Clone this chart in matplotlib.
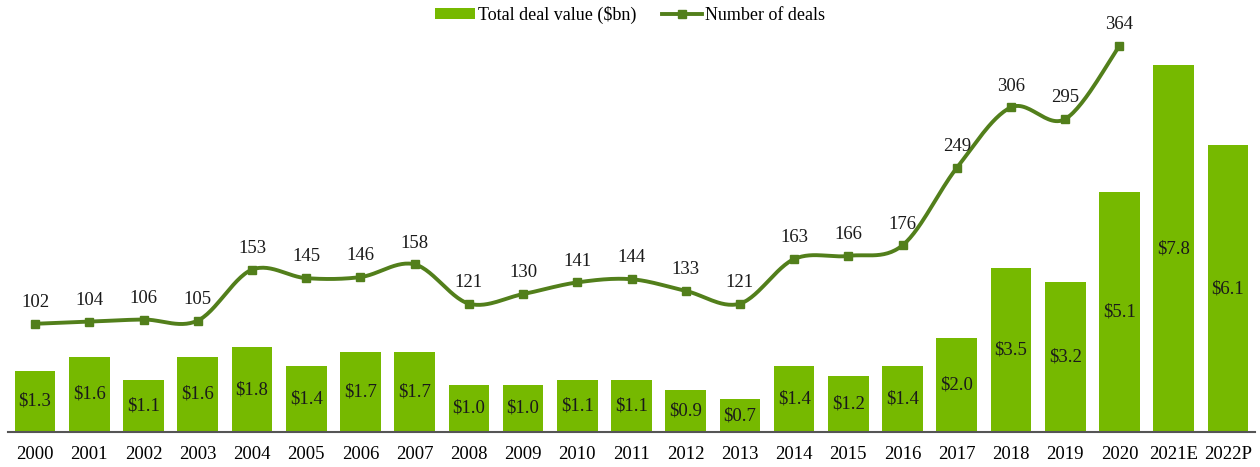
import numpy as np
import matplotlib
matplotlib.use("Agg")
from matplotlib import pyplot as plt
from matplotlib.lines import Line2D

years = ['2000', '2001', '2002', '2003', '2004', '2005', '2006', '2007', '2008', '2009',
         '2010', '2011', '2012', '2013', '2014', '2015', '2016', '2017', '2018', '2019',
         '2020', '2021E', '2022P']
deal_value = [1.3, 1.6, 1.1, 1.6, 1.8, 1.4, 1.7, 1.7, 1.0, 1.0, 1.1, 1.1, 0.9, 0.7,
              1.4, 1.2, 1.4, 2.0, 3.5, 3.2, 5.1, 7.8, 6.1]
num_deals = [102, 104, 106, 105, 153, 145, 146, 158, 121, 130, 141, 144, 133, 121,
             163, 166, 176, 249, 306, 295, 364]

bar_color = '#76b900'
line_color = '#527f1b'
fs = 13.5

plt.rcParams['font.family'] = ['Liberation Serif', 'DejaVu Serif']


def smooth(xs, ys, n=30):
    # catmull-rom style smoothing, like the office "smoothed line"
    xs = np.asarray(xs, float)
    ys = np.asarray(ys, float)
    px = np.concatenate([[xs[0]], xs, [xs[-1]]])
    py = np.concatenate([[ys[0]], ys, [ys[-1]]])
    out_x, out_y = [], []
    for i in range(1, len(px) - 2):
        p0, p1, p2, p3 = [np.array([px[j], py[j]]) for j in (i - 1, i, i + 1, i + 2)]
        c1 = p1 + (p2 - p0) / 6
        c2 = p2 - (p3 - p1) / 6
        t = np.linspace(0, 1, n)[:, None]
        pts = ((1 - t) ** 3) * p1 + 3 * ((1 - t) ** 2) * t * c1 + 3 * (1 - t) * t ** 2 * c2 + t ** 3 * p2
        out_x.extend(pts[:, 0])
        out_y.extend(pts[:, 1])
    return np.array(out_x), np.array(out_y)


fig = plt.figure(figsize=(12.6, 4.67), dpi=100)
ax = fig.add_axes([8 / 1260, 35 / 467, 1247 / 1260, 402 / 467])
x = np.arange(len(years))
bars = ax.bar(x, deal_value, width=0.75, color=bar_color)
for xi, v in zip(x, deal_value):
    ax.text(xi, v / 2, f'${v:.1f}', ha='center', va='center', fontsize=fs, color='#1a1a1a')

ax.set_xlim(-0.5, 22.5)
ax.set_ylim(0, 402 / 47)
ax.set_xticks(x)
ax.set_xticklabels(years, fontsize=fs)
ax.tick_params(axis='x', length=0, pad=10)
ax.set_yticks([])
for s in ['top', 'left', 'right']:
    ax.spines[s].set_visible(False)
ax.spines['bottom'].set_color('#555555')
ax.spines['bottom'].set_linewidth(1.5)

ax2 = ax.twinx()
lx = np.arange(len(num_deals))
sx, sy = smooth(lx, num_deals)
ax2.plot(sx, sy, color=line_color, lw=2.8)
ax2.plot(lx, num_deals, ls='none', color=line_color, marker='s', markersize=6)
for xi, v in zip(lx, num_deals):
    ax2.text(xi, v + 12, str(v), ha='center', va='bottom', fontsize=fs, color='#1a1a1a')
ax2.set_ylim(0, 402 / 1.061)
ax2.set_yticks([])
for s in ['top', 'left', 'right', 'bottom']:
    ax2.spines[s].set_visible(False)

leg_line = Line2D([], [], color=line_color, lw=2.8, marker='s', markersize=6)
fig.legend([bars, leg_line], ['Total deal value ($bn)', 'Number of deals'],
           loc='center', bbox_to_anchor=(0.5, 1 - 15 / 467), ncol=2, frameon=False,
           fontsize=13, handlelength=2.2, handleheight=0.5, columnspacing=1.4, handletextpad=0.2)

fig.savefig('out.png', dpi=100)
